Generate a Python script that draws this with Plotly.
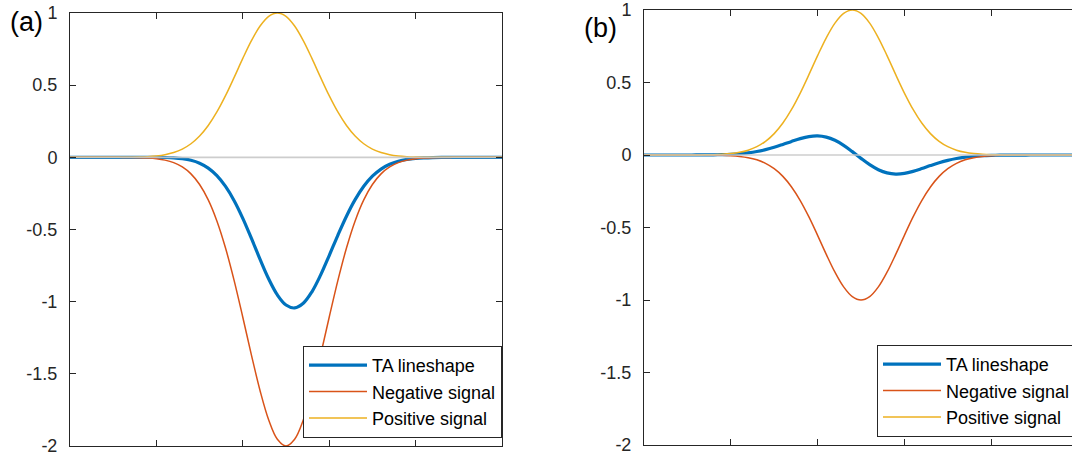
import plotly.graph_objects as go

# ---------------- data ----------------
x_vals = [0.0, 0.1, 0.2, 0.3, 0.4, 0.5, 0.6, 0.7, 0.8, 0.9,
          1.0, 1.1, 1.2, 1.3, 1.4, 1.5, 1.6, 1.7, 1.8, 1.9,
          2.0, 2.1, 2.2, 2.3, 2.4, 2.5, 2.6, 2.7, 2.8, 2.9,
          3.0, 3.1, 3.2, 3.3, 3.4, 3.5, 3.6, 3.7, 3.8, 3.9,
          4.0, 4.1, 4.2, 4.3, 4.4, 4.5, 4.6, 4.7, 4.8, 4.9, 5.0]

# panel (a)
pos_a = [0, 0, 0, 0, 0, 0, 0.0005, 0.0011, 0.0024, 0.0049,
         0.0097, 0.0184, 0.0333, 0.0573, 0.0941, 0.1475, 0.2204, 0.3142, 0.4271, 0.5539,
         0.6852, 0.8084, 0.9098, 0.9767, 1.0, 0.9767, 0.9098, 0.8084, 0.6852, 0.5539,
         0.4271, 0.3142, 0.2204, 0.1475, 0.0941, 0.0573, 0.0333, 0.0184, 0.0097, 0.0049,
         0.0024, 0.0011, 0.0005, 0.0002, 0, 0, 0, 0, 0, 0, 0]
neg_a = [0, 0, 0, 0, 0, 0, -0.0004, -0.001, -0.0022, -0.0048,
         -0.0098, -0.0194, -0.0368, -0.0666, -0.1146, -0.1882, -0.295, -0.4408, -0.6284, -0.8542,
         -1.1078, -1.3704, -1.6168, -1.8196, -1.9534, -2.0, -1.9534, -1.8196, -1.6168, -1.3704,
         -1.1078, -0.8542, -0.6284, -0.4408, -0.295, -0.1882, -0.1146, -0.0666, -0.0368, -0.0194,
         -0.0098, -0.0048, -0.0022, -0.001, -0.0004, 0, 0, 0, 0, 0, 0]
ta_a = [0, 0, 0, 0, 0, 0, 0.0001, 0.0001, 0.0002, 0.0001,
        -0.0001, -0.001, -0.0035, -0.0093, -0.0205, -0.0407, -0.0746, -0.1266, -0.2013, -0.3003,
        -0.4226, -0.562, -0.707, -0.8429, -0.9534, -1.0233, -1.0436, -1.0112, -0.9316, -0.8165,
        -0.6807, -0.54, -0.408, -0.2933, -0.2009, -0.1309, -0.0813, -0.0482, -0.0271, -0.0145,
        -0.0074, -0.0037, -0.0017, -0.0008, -0.0004, 0, 0, 0, 0, 0, 0]

# panel (b)
pos_b = list(pos_a)
neg_b = [0, 0, 0, 0, 0, 0, -0.0002, -0.0005, -0.0011, -0.0024,
         -0.0049, -0.0097, -0.0184, -0.0333, -0.0573, -0.0941, -0.1475, -0.2204, -0.3142, -0.4271,
         -0.5539, -0.6852, -0.8084, -0.9098, -0.9767, -1.0, -0.9767, -0.9098, -0.8084, -0.6852,
         -0.5539, -0.4271, -0.3142, -0.2204, -0.1475, -0.0941, -0.0573, -0.0333, -0.0184, -0.0097,
         -0.0049, -0.0024, -0.0011, -0.0005, -0.0002, 0, 0, 0, 0, 0, 0]
ta_b = [0, 0, 0, 0, 0, 0, 0.0003, 0.0006, 0.0013, 0.0025,
        0.0048, 0.0087, 0.0149, 0.024, 0.0368, 0.0534, 0.0729, 0.0938, 0.1129, 0.1268,
        0.1313, 0.1232, 0.1014, 0.0669, 0.0233, -0.0233, -0.0669, -0.1014, -0.1232, -0.1313,
        -0.1268, -0.1129, -0.0938, -0.0729, -0.0534, -0.0368, -0.024, -0.0149, -0.0087, -0.0048,
        -0.0025, -0.0013, -0.0006, -0.0003, -0.0002, 0, 0, 0, 0, 0, 0]

baseline_x = [0, 5]
baseline_y = [0, 0]

series_names = ["TA lineshape", "Negative signal", "Positive signal"]
y_tick_vals = [-2, -1.5, -1, -0.5, 0, 0.5, 1]
y_tick_text = ["-2", "-1.5", "-1", "-0.5", "0", "0.5", "1"]
x_tick_vals = [1, 2, 3, 4]
panel_labels = ["(a)", "(b)"]

# ---------------- styling ----------------
W, H = 1072, 459
C_BLUE, C_ORANGE, C_YELLOW = "#0072BD", "#D95319", "#EDB120"
AX = "#262626"
FONT = "Liberation Sans, Arial, sans-serif"

fig = go.Figure()

panels = [
    dict(ta=ta_a, neg=neg_a, pos=pos_a, xa="x", ya="y", legend="legend"),
    dict(ta=ta_b, neg=neg_b, pos=pos_b, xa="x2", ya="y2", legend="legend2"),
]
for p in panels:
    for name, ys, col, w in zip(series_names, [p["ta"], p["neg"], p["pos"]],
                                [C_BLUE, C_ORANGE, C_YELLOW], [3.2, 1.5, 1.5]):
        fig.add_trace(go.Scatter(x=x_vals, y=ys, mode="lines", name=name,
                                 line=dict(color=col, width=w, shape="spline"),
                                 xaxis=p["xa"], yaxis=p["ya"], legend=p["legend"]))
    fig.add_trace(go.Scatter(x=baseline_x, y=baseline_y, mode="lines",
                             line=dict(color="rgba(200,200,200,0.9)", width=1.6),
                             xaxis=p["xa"], yaxis=p["ya"], showlegend=False,
                             hoverinfo="skip"))

def px_x(v):
    return v / W

def px_y(v):
    return 1 - v / H

xcommon = dict(showline=True, linecolor=AX, linewidth=1, ticks="inside",
               ticklen=6, tickcolor=AX, tickvals=x_tick_vals, showticklabels=False,
               showgrid=False, zeroline=False, mirror="allticks")
ycommon = dict(showline=True, linecolor=AX, linewidth=1, ticks="inside",
               ticklen=6, tickcolor=AX, tickvals=y_tick_vals, ticktext=y_tick_text,
               showgrid=False, zeroline=False, range=[-2, 1],
               tickfont=dict(family=FONT, size=18, color=AX), ticklabelstandoff=8)

fig.update_layout(
    xaxis=dict(xcommon, domain=[px_x(70), px_x(502)], range=[0, 5], anchor="y"),
    yaxis=dict(ycommon, domain=[px_y(446), px_y(13)], anchor="x", mirror="allticks"),
    xaxis2=dict(xcommon, domain=[px_x(644), 1.0],
                range=[0, 5 * (W - 644) / 434], anchor="y2"),
    yaxis2=dict(ycommon, domain=[px_y(445), px_y(10)], anchor="x2", mirror=False),
)

legend_common = dict(bgcolor="white", bordercolor=AX, borderwidth=1,
                     font=dict(family=FONT, size=18, color="black"),
                     xref="paper", yref="paper", tracegroupgap=0, itemwidth=58)
fig.update_layout(
    legend=dict(legend_common, x=px_x(502), xanchor="right",
                y=px_y(438), yanchor="bottom"),
    legend2=dict(legend_common, x=px_x(877), xanchor="left",
                 y=px_y(437), yanchor="bottom"),
)

fig.add_annotation(text=panel_labels[0], x=px_x(26), y=px_y(22), xref="paper",
                   yref="paper", showarrow=False, xanchor="center", yanchor="middle",
                   font=dict(family=FONT, size=27, color="black"))
fig.add_annotation(text=panel_labels[1], x=px_x(600), y=px_y(28), xref="paper",
                   yref="paper", showarrow=False, xanchor="center", yanchor="middle",
                   font=dict(family=FONT, size=27, color="black"))

fig.update_layout(width=W, height=H, margin=dict(l=0, r=0, t=0, b=0, autoexpand=False),
                  paper_bgcolor="white", plot_bgcolor="white", showlegend=True,
                  font=dict(family=FONT))

fig.write_html("out.html")
